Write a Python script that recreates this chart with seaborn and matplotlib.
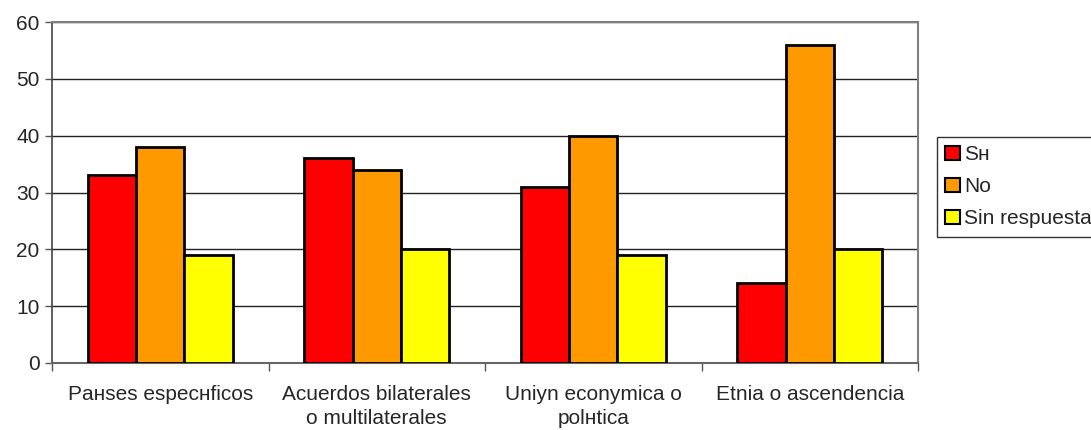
import matplotlib
matplotlib.use("Agg")
import matplotlib.pyplot as plt
import seaborn as sns
import pandas as pd
from matplotlib.patches import Patch

categories = [
    "Paнses especнficos",
    "Acuerdos bilaterales\no multilaterales",
    "Uniуn econуmica o\npolнtica",
    "Etnia o ascendencia",
]
series_names = ["Sн", "No", "Sin respuesta"]
si_values = [33, 36, 31, 14]
no_values = [38, 34, 40, 56]
sin_resp_values = [19, 20, 19, 20]
y_ticks = [0, 10, 20, 30, 40, 50, 60]
colors = ["#FF0000", "#FF9900", "#FFFF00"]

rows = []
for name, vals in zip(series_names, [si_values, no_values, sin_resp_values]):
    for cat, v in zip(categories, vals):
        rows.append({"categoria": cat, "serie": name, "valor": v})
df = pd.DataFrame(rows)

sns.set_theme(style="white")
plt.rcParams["font.family"] = ["Liberation Sans", "DejaVu Sans"]

fig = plt.figure(figsize=(10.91, 4.30), dpi=100)
ax = fig.add_axes([52 / 1091, 1 - 363 / 430, (918 - 52) / 1091, (363 - 22) / 430])

sns.barplot(
    data=df, x="categoria", y="valor", hue="serie",
    order=categories, hue_order=series_names,
    palette=colors, width=0.67, gap=0,
    edgecolor="black", linewidth=2.0, saturation=1,
    legend=False, ax=ax, zorder=3,
)

ax.set_ylim(0, 60)
ax.set_xlim(-0.5, len(categories) - 0.5)
ax.set_yticks(y_ticks)
ax.set_yticklabels([str(t) for t in y_ticks], fontsize=15)
ax.yaxis.grid(True, color="#222222", linewidth=1.0, zorder=0)
ax.set_axisbelow(True)

# category boundaries carry the tick marks, centres carry the labels
ax.set_xticks([i - 0.5 for i in range(len(categories) + 1)])
ax.set_xticklabels([])
ax.set_xticks(range(len(categories)), minor=True)
ax.set_xticklabels(categories, minor=True, fontsize=15, linespacing=1.3)
ax.tick_params(axis="x", which="major", direction="out", length=6, width=1, color="#555555", bottom=True)
ax.tick_params(axis="x", which="minor", length=0, pad=16)
ax.tick_params(axis="y", direction="out", length=5, width=1, color="#555555", left=True, pad=4)

ax.set_xlabel("")
ax.set_ylabel("")
for side in ["top", "right"]:
    ax.spines[side].set_color("#808080")
    ax.spines[side].set_linewidth(1.5)
ax.spines["left"].set_color("#444444")
ax.spines["bottom"].set_color("#666666")
ax.spines["left"].set_linewidth(1.2)
ax.spines["bottom"].set_linewidth(1.5)

handles = [Patch(facecolor=c, edgecolor="black", linewidth=1.5) for c in colors]
leg = fig.legend(
    handles, series_names, loc="upper left",
    bbox_to_anchor=(937 / 1091, 1 - 137 / 430),
    fontsize=15, frameon=True, fancybox=False,
    handlelength=0.7, handleheight=0.7, handletextpad=0.2,
    borderpad=0.4, labelspacing=0.62, borderaxespad=0,
)
leg.get_frame().set_edgecolor("black")
leg.get_frame().set_linewidth(1.0)

fig.savefig("out.png", dpi=100)
